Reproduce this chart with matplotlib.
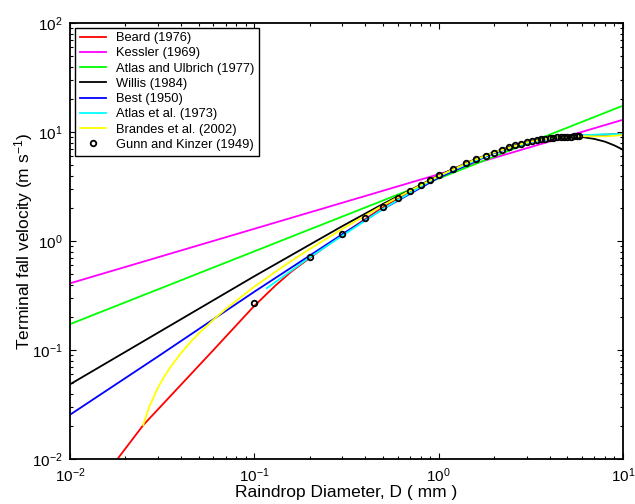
import matplotlib
matplotlib.use('Agg')
import matplotlib.pyplot as plt

plt.rcParams['font.family'] = ['Liberation Sans', 'DejaVu Sans']
plt.rcParams['mathtext.default'] = 'regular'

# Beard (1976)
beard_d = [0.0181, 0.025, 0.04, 0.06, 0.0988, 0.13, 0.16, 0.2, 0.3, 0.5, 0.7, 1.0, 1.5, 2.0, 3.0, 4.0, 5.0, 6.0, 7.0, 10.0]
beard_v = [0.010, 0.0205, 0.048, 0.100, 0.249, 0.39, 0.53, 0.70, 1.15, 2.05, 2.86, 4.0, 5.4, 6.5, 8.05, 8.85, 9.1, 9.25, 9.4, 9.7]

# Kessler (1969)
kessler_d = [0.01, 10.0]
kessler_v = [0.41, 13.0]

# Atlas and Ulbrich (1977)
au_d = [0.01, 10.0]
au_v = [0.173, 17.5]

# Willis (1984)
willis_d = [0.01, 0.1, 0.3, 0.5, 1.0, 1.5, 2.0, 2.5, 3.0, 3.5, 4.0, 5.0, 6.0, 7.0, 8.0, 9.0, 10.0]
willis_v = [0.0485, 0.476, 1.372, 2.197, 3.993, 5.44, 6.56, 7.45, 8.08, 8.58, 8.88, 9.16, 9.03, 8.67, 8.18, 7.55, 6.91]

# Best (1950)
best_d = [0.01, 0.03, 0.1, 0.3, 0.5, 1.0, 2.0, 3.0, 4.0, 5.0, 6.0, 8.0, 10.0]
best_v = [0.0255, 0.0873, 0.343, 1.154, 1.973, 3.82, 6.44, 7.92, 8.69, 9.08, 9.27, 9.40, 9.43]

# Atlas et al. (1973)
atlas_d = [0.117, 0.15, 0.2, 0.3, 0.5, 1.0, 2.0, 3.0, 4.0, 5.0, 6.0, 8.0, 10.0]
atlas_v = [0.37, 0.50, 0.71, 1.12, 1.98, 3.95, 6.5, 7.95, 8.72, 9.14, 9.37, 9.57, 9.62]

# Brandes et al. (2002)
brandes_d = [0.025, 0.027, 0.03, 0.0325, 0.035, 0.04, 0.045, 0.05, 0.06, 0.07, 0.1, 0.15, 0.2, 0.3, 0.5, 0.7,
             1.0, 1.5, 2.0, 3.0, 4.0, 5.0, 6.0, 7.0, 8.0, 9.0, 10.0]
brandes_v = [0.0206, 0.0304, 0.045, 0.0572, 0.0693, 0.0937, 0.118, 0.142, 0.190, 0.238, 0.382, 0.617, 0.847, 1.294, 2.135, 2.909,
             3.952, 5.403, 6.538, 8.049, 8.817, 9.122, 9.182, 9.164, 9.175, 9.265, 9.428]

# Gunn and Kinzer (1949)
gk_d = [0.1, 0.2, 0.3, 0.4, 0.5, 0.6, 0.7, 0.8, 0.9, 1.0, 1.2, 1.4, 1.6, 1.8, 2.0, 2.2, 2.4, 2.6, 2.8,
        3.0, 3.2, 3.4, 3.6, 3.8, 4.0, 4.2, 4.4, 4.6, 4.8, 5.0, 5.2, 5.4, 5.6, 5.8]
gk_v = [0.27, 0.72, 1.17, 1.62, 2.06, 2.47, 2.87, 3.27, 3.67, 4.03, 4.64, 5.17, 5.65, 6.09, 6.49, 6.90, 7.27, 7.57, 7.82,
        8.06, 8.26, 8.44, 8.60, 8.72, 8.83, 8.92, 8.98, 9.03, 9.07, 9.09, 9.12, 9.14, 9.16, 9.17]

fig = plt.figure(figsize=(6.35, 5.04), dpi=100)
ax = fig.add_axes([0.110, 0.089, 0.871, 0.865])

lw = 1.3
ax.plot(beard_d, beard_v, color='#ff0000', lw=lw, label='Beard (1976)')
ax.plot(kessler_d, kessler_v, color='#ff00ff', lw=lw, label='Kessler (1969)')
ax.plot(au_d, au_v, color='#00ff00', lw=lw, label='Atlas and Ulbrich (1977)')
ax.plot(willis_d, willis_v, color='black', lw=lw, label='Willis (1984)')
ax.plot(best_d, best_v, color='#0000ff', lw=lw, label='Best (1950)')
ax.plot(atlas_d, atlas_v, color='#00ffff', lw=lw, label='Atlas et al. (1973)')
ax.plot(brandes_d, brandes_v, color='#ffff00', lw=lw, label='Brandes et al. (2002)')
ax.plot(gk_d, gk_v, 'o', color='black', mfc='none', ms=4, mew=1.3, ls='none', label='Gunn and Kinzer (1949)')

ax.set_xscale('log')
ax.set_yscale('log')
ax.set_xlim(1e-2, 1e1)
ax.set_ylim(1e-2, 1e2)

ax.set_xlabel('Raindrop Diameter, D ( mm )', fontsize=12.5, labelpad=0)
ax.set_ylabel('Terminal fall velocity (m s$^{-1}$)', fontsize=12.5, labelpad=-2)

ax.tick_params(which='both', direction='in', top=True, right=True, labelsize=11, width=0.8)
ax.tick_params(which='major', length=4, pad=5)
ax.tick_params(which='minor', length=2)
for s in ax.spines.values():
    s.set_linewidth(1.3)

leg = ax.legend(loc='upper left', bbox_to_anchor=(0.01, 0.99), borderaxespad=0, fontsize=9.3,
                fancybox=False, framealpha=1, edgecolor='black', handlelength=2.0,
                labelspacing=0.25, borderpad=0.35, handletextpad=0.8)
leg.get_frame().set_linewidth(1.0)

fig.savefig('out.png', dpi=100)
